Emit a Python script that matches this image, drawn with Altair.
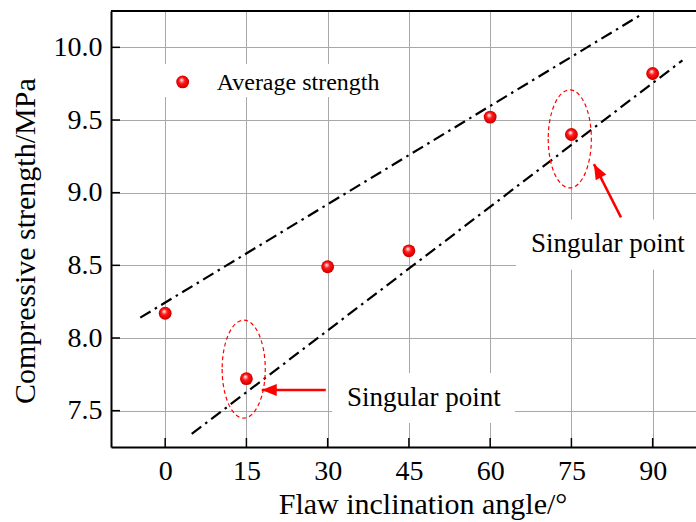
import altair as alt
import pandas as pd

# Average compressive strength at each flaw inclination angle
angles = [0, 15, 30, 45, 60, 75, 90]
strength = [8.17, 7.72, 8.49, 8.60, 9.52, 9.40, 9.82]

x_ticks = [0, 15, 30, 45, 60, 75, 90]
y_ticks = [7.5, 8.0, 8.5, 9.0, 9.5, 10.0]

# Dash-dot envelope lines (end points)
env_name = ["upper", "upper", "lower", "lower"]
env_x = [-4.6, 88.1, 4.9, 95.5]
env_y = [8.14, 10.23, 7.34, 9.91]

# Dashed rings around the singular points
ring_x = [14.5, 74.7]
ring_y = [7.786, 9.37]

# Arrows pointing at the rings
arrow_tail_x = [29.65, 84.15]
arrow_tail_y = [7.643, 8.83]
arrow_tip_x = [17.83, 79.16]
arrow_tip_y = [7.643, 9.196]
arrow_angle = [0, 62]

# Annotation labels
note_text = ["Singular point", "Singular point"]
note_x = [47.75, 81.75]
note_y = [7.532, 8.595]

# White panels behind the labels and the legend
panel_x = [30.8, 64.75, -1.6]
panel_x2 = [64.6, 98.0, 42.2]
panel_y = [7.415, 8.47, 9.658]
panel_y2 = [7.76, 8.815, 9.886]

# Legend entry
legend_label = ["Average strength"]
legend_pt_x = [3.23]
legend_pt_y = [9.762]
legend_txt_x = [9.51]
legend_txt_y = [9.708]

W, H = 585, 436
FONT = "Liberation Serif"
RED = "#ff0000"

xs = alt.Scale(domain=[-10, 98], nice=False, zero=False)
ys = alt.Scale(domain=[7.25, 10.25], nice=False, zero=False)

x_axis = alt.Axis(
    values=x_ticks, title="Flaw inclination angle/°",
    labelFont=FONT, labelFontSize=28, labelColor="black", labelPadding=10,
    ticks=False, tickSize=0,
    domainColor="black", domainWidth=2,
    grid=True, gridColor="#a8a8a8", gridWidth=1,
    titleFont=FONT, titleFontSize=30, titleFontWeight="normal", titleColor="black",
    titleX=311.5, titleY=66, titleBaseline="alphabetic",
)
y_axis = alt.Axis(
    values=y_ticks, format=".1f", title="Compressive strength/MPa",
    labelFont=FONT, labelFontSize=28, labelColor="black", labelPadding=9,
    ticks=False, tickSize=0,
    domainColor="black", domainWidth=2,
    grid=True, gridColor="#a8a8a8", gridWidth=1,
    titleFont=FONT, titleFontSize=30, titleFontWeight="normal", titleColor="black",
    titleX=-77, titleY=229.7, titleBaseline="alphabetic", titleAngle=270,
)


def X(field="x"):
    return alt.X(f"{field}:Q", scale=xs, axis=x_axis)


def Y(field="y"):
    return alt.Y(f"{field}:Q", scale=ys, axis=y_axis)


sphere = alt.RadialGradient(
    gradient="radial",
    stops=[
        alt.GradientStop(offset=0.0, color="#ffffff"),
        alt.GradientStop(offset=0.15, color="#ffb4b4"),
        alt.GradientStop(offset=0.4, color="#ff1a1a"),
        alt.GradientStop(offset=0.8, color="#e00000"),
        alt.GradientStop(offset=1.0, color="#a80000"),
    ],
    x1=0.4, y1=0.33, r1=0.0, x2=0.5, y2=0.5, r2=0.55,
)

pts = pd.DataFrame({"x": angles, "y": strength})

panels = alt.Chart(pd.DataFrame({"x": panel_x, "x2": panel_x2, "y": panel_y, "y2": panel_y2})).mark_rect(
    fill="white").encode(x=X(), x2="x2:Q", y=Y(), y2="y2:Q")

top_frame = alt.Chart(alt.Data(values=[{}])).mark_rule(color="black", strokeWidth=2).encode(
    x=alt.value(0), x2=alt.value(W), y=alt.value(0))

xtick_marks = alt.Chart(pd.DataFrame({"x": x_ticks})).mark_rule(color="black", strokeWidth=1.5).encode(
    x=X(), y=alt.value(H), y2=alt.value(H - 9))
ytick_marks = alt.Chart(pd.DataFrame({"y": y_ticks})).mark_rule(color="black", strokeWidth=1.5).encode(
    y=Y(), x=alt.value(0), x2=alt.value(9))

envelopes = alt.Chart(pd.DataFrame({"name": env_name, "x": env_x, "y": env_y})).mark_line(
    color="black", strokeWidth=2.2, strokeDash=[12, 5, 2.5, 5]).encode(
    x=X(), y=Y(), detail="name:N")

ellipse_path = "M -0.44 0 A 0.44 1 0 1 0 0.44 0 A 0.44 1 0 1 0 -0.44 0 Z"
rings = alt.Chart(pd.DataFrame({"x": ring_x, "y": ring_y})).mark_point(
    shape=ellipse_path, size=9604, filled=False, stroke=RED, strokeWidth=1.2,
    strokeDash=[4, 3], opacity=1).encode(x=X(), y=Y())

arrows_df = pd.DataFrame({"x": arrow_tail_x, "y": arrow_tail_y, "x2": arrow_tip_x,
                          "y2": arrow_tip_y, "angle": arrow_angle})
shafts = alt.Chart(arrows_df).mark_rule(color=RED, strokeWidth=2.5).encode(
    x=X(), y=Y(), x2="x2:Q", y2="y2:Q")
heads = alt.Chart(arrows_df).mark_point(
    shape="M 0 0 L 2 -0.8 L 2 0.8 Z", size=225, filled=True, color=RED, opacity=1).encode(
    x=X("x2"), y=Y("y2"), angle=alt.Angle("angle:Q", scale=None))

points = alt.Chart(pts).mark_circle(size=165, fill=sphere, opacity=1).encode(x=X(), y=Y())

notes = alt.Chart(pd.DataFrame({"x": note_x, "y": note_y, "t": note_text})).mark_text(
    font=FONT, fontSize=27, color="black", align="center", baseline="alphabetic").encode(
    x=X(), y=Y(), text="t:N")

legend_pt = alt.Chart(pd.DataFrame({"x": legend_pt_x, "y": legend_pt_y})).mark_circle(
    size=165, fill=sphere, opacity=1).encode(x=X(), y=Y())
legend_txt = alt.Chart(pd.DataFrame({"x": legend_txt_x, "y": legend_txt_y, "t": legend_label})).mark_text(
    font=FONT, fontSize=24, color="black", align="left", baseline="alphabetic").encode(
    x=X(), y=Y(), text="t:N")

chart = alt.layer(
    panels, xtick_marks, ytick_marks, top_frame, envelopes, rings,
    shafts, heads, points, notes, legend_pt, legend_txt,
).properties(
    width=W, height=H,
    padding={"left": 111, "top": 11, "right": 0, "bottom": 75},
    autosize=alt.AutoSizeParams(type="none"),
).configure_view(stroke=None).configure(background="white")

chart.save("out.html", embed_options={"renderer": "svg", "actions": False})
